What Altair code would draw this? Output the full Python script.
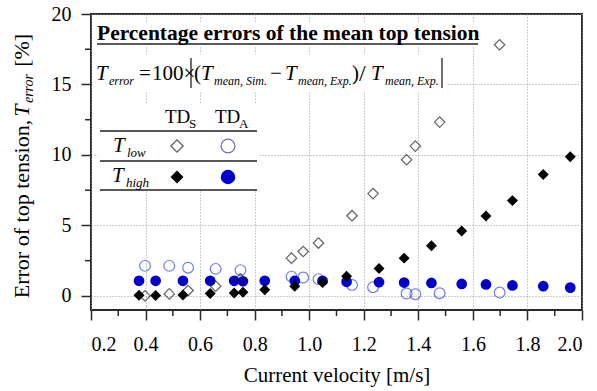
import altair as alt
import pandas as pd

# ---------------- data ----------------
low_x = [0.398, 0.487, 0.556, 0.657, 0.748, 0.935, 0.978, 1.034, 1.157, 1.234, 1.357, 1.389, 1.478, 1.698]
tds_low = [0.0, 0.14, 0.38, 0.69, 1.21, 2.68, 3.15, 3.75, 5.69, 7.26, 9.66, 10.63, 12.33, 17.82]
tda_low = [2.13, 2.13, 2.0, 1.92, 1.83, 1.37, 1.30, 1.19, 0.78, 0.62, 0.17, 0.12, 0.19, 0.24]

high_x = [0.376, 0.437, 0.537, 0.637, 0.725, 0.757, 0.837, 0.947, 1.049, 1.137, 1.256, 1.348,
          1.448, 1.559, 1.648, 1.745, 1.858, 1.957]
tds_high = [0.05, 0.03, 0.07, 0.17, 0.20, 0.26, 0.43, 0.69, 0.95, 1.40, 1.94, 2.68,
            3.56, 4.60, 5.67, 6.76, 8.61, 9.87]
tda_high = [1.07, 1.07, 1.07, 1.07, 1.07, 1.04, 1.07, 1.07, 1.07, 1.00, 0.97, 0.95,
            0.92, 0.85, 0.81, 0.74, 0.69, 0.59]

x_major = [0.2, 0.4, 0.6, 0.8, 1.0, 1.2, 1.4, 1.6, 1.8, 2.0]
x_minor = [0.3, 0.5, 0.7, 0.9, 1.1, 1.3, 1.5, 1.7, 1.9]
y_major = [0, 5, 10, 15, 20]
y_minor = [2.5, 7.5, 12.5, 17.5]

x_title = "Current velocity [m/s]"
y_title_parts = ["Error of top tension,", "T", "error", "[%]"]
panel_title = "Percentage errors of the mean top tension"

# ---------------- layout ----------------
OX, OY = 91, 14          # plot-area origin inside the 597x391 page
W, H = 491, 296
X0, X1 = 0.2, 2.0
Y0, Y1 = -1.0, 20.0
FONT = "Liberation Serif"
BLUE = "#0000c8"
BLUE_OPEN = "#3a46d8"
INK = "#2a2a2a"


def dx(p):
    return X0 + (p - OX) / W * (X1 - X0)


def dy(p):
    return Y1 - (p - OY) / H * (Y1 - Y0)


xs = alt.Scale(domain=[X0, X1], nice=False, zero=False)
ys = alt.Scale(domain=[Y0, Y1], nice=False, zero=False)

axis_style = dict(labelFont=FONT, labelFontSize=20, labelColor="black",
                  titleFont=FONT, titleFontSize=21, titleFontWeight="normal", titleColor="black",
                  tickColor=INK, tickWidth=1.5, domain=False, tickSize=10,
                  gridColor="#9a9a9a", gridDash=[1, 2], gridWidth=1)

# identical axis objects on every layer so the shared axes merge cleanly
x_axis = alt.Axis(values=x_major, format=".1f", title=x_title, titlePadding=10,
                  labelPadding=14, **axis_style)
y_axis = alt.Axis(values=y_major, format="d", title="", labelPadding=10, **axis_style)

X_ = lambda f="v": alt.X(f + ":Q", scale=xs, axis=x_axis)
Y_ = lambda f="val": alt.Y(f + ":Q", scale=ys, axis=y_axis)


def series(xv, yv):
    return pd.DataFrame({"v": xv, "val": yv})


a_low = alt.Chart(series(low_x, tda_low)).mark_point(
    shape="circle", size=115, filled=False, stroke=BLUE_OPEN, strokeWidth=1.2).encode(x=X_(), y=Y_())
a_high = alt.Chart(series(high_x, tda_high)).mark_point(
    shape="circle", size=115, filled=True, fill=BLUE, opacity=1, strokeWidth=0).encode(x=X_(), y=Y_())
s_low = alt.Chart(series(low_x, tds_low)).mark_point(
    shape="diamond", size=110, filled=False, stroke="#222", strokeWidth=1.2).encode(x=X_(), y=Y_())
s_high = alt.Chart(series(high_x, tds_high)).mark_point(
    shape="diamond", size=120, filled=True, fill="black", opacity=1, strokeWidth=0).encode(x=X_(), y=Y_())

# minor ticks (outside the frame)
mx = pd.DataFrame({"v": x_minor, "y1": Y0, "y2": Y0 - 6 / H * (Y1 - Y0)})
my = pd.DataFrame({"val": y_minor, "x1": X0, "x2": X0 - 6 / W * (X1 - X0)})
minor_x_layer = alt.Chart(mx).mark_rule(color=INK, strokeWidth=1.5).encode(
    x=X_(), y=Y_("y1"), y2="y2:Q")
minor_y_layer = alt.Chart(my).mark_rule(color=INK, strokeWidth=1.5).encode(
    y=Y_(), x=X_("x1"), x2="x2:Q")

# ---------------- annotation (page-pixel placed, converted to data units) ----------------
boxes = pd.DataFrame([(93, 22, 482, 47), (93, 54, 446, 92), (98, 104, 259, 191)],
                     columns=["x", "y", "x2", "y2"])
boxes = boxes.assign(x=dx(boxes.x), x2=dx(boxes.x2), y=dy(boxes.y), y2=dy(boxes.y2))
box_layer = alt.Chart(boxes).mark_rect(fill="white").encode(
    x=X_("x"), x2="x2:Q", y=Y_("y"), y2="y2:Q")

rules = pd.DataFrame([(97, 44, 478, 44, 1.6), (191, 58, 191, 88, 1.3), (442, 58, 442, 88, 1.3),
                      (100, 131, 257, 131, 1.6), (100, 161, 257, 161, 1.6), (100, 190, 257, 190, 1.6)],
                     columns=["x", "y", "x2", "y2", "w"])
rules = rules.assign(x=dx(rules.x), x2=dx(rules.x2), y=dy(rules.y), y2=dy(rules.y2))
rule_layer = alt.Chart(rules).mark_rule(color="#222").encode(
    x=X_("x"), x2="x2:Q", y=Y_("y"), y2="y2:Q", strokeWidth=alt.StrokeWidth("w:Q", scale=None))

FY, FS = 22, 14
yb = 29
w_main = 8.25 * FY
w_T = 0.62 * FY
w_err = 2.2 * FS + 0.25 * FY
w_pct = 1.5 * FY
total = w_main + w_T + w_err + w_pct
ystart = 166 + total / 2

normal_rows = [
    ("=", 139, 80, 21, 0), ("100×", 152, 80, 21, 0), ("(", 194, 80, 21, 0), ("−", 270, 80, 21, 0),
    (")", 352, 80, 21, 0), ("/", 359, 81, 24, 0),
    ("TD", 165, 123, 19, 0), ("S", 189, 128, 13, 0), ("TD", 215, 123, 19, 0), ("A", 239, 128, 13, 0),
    (y_title_parts[0], yb, ystart, FY, 270),
    (y_title_parts[3], yb, ystart - w_main - w_T - w_err, FY, 270),
]
italic_rows = [
    ("T", 96, 80, 21, 0), ("error", 109, 85, 12, 0),
    ("T", 201, 80, 21, 0), ("mean, Sim.", 214, 85, 12, 0),
    ("T", 285, 80, 21, 0), ("mean, Exp.", 298, 85, 12, 0),
    ("T", 371, 80, 21, 0), ("mean, Exp.", 385, 85, 12, 0),
    ("T", 113, 152, 21, 0), ("low", 127, 157, 13, 0),
    ("T", 112, 182, 21, 0), ("high", 126, 187, 13, 0),
    (y_title_parts[1], yb, ystart - w_main, FY, 270),
    (y_title_parts[2], yb + 4, ystart - w_main - w_T, FS, 270),
]
bold_rows = [(panel_title, 97, 40, 21.5, 0)]
tcols = ["t", "x", "y", "size", "angle"]


def text_layer(rows, **kw):
    d = pd.DataFrame(rows, columns=tcols)
    d = d.assign(x=dx(d.x), y=dy(d.y))
    return alt.Chart(d).mark_text(align="left", baseline="alphabetic", font=FONT,
                                  color="black", **kw).encode(
        x=X_("x"), y=Y_("y"), text="t:N",
        size=alt.Size("size:Q", scale=None), angle=alt.Angle("angle:Q", scale=None))


t_norm = text_layer(normal_rows)
t_ital = text_layer(italic_rows, fontStyle="italic")
t_bold = text_layer(bold_rows, fontWeight="bold")


def sym(px, py):
    return pd.DataFrame({"x": [dx(px)], "y": [dy(py)]})


leg1 = alt.Chart(sym(177, 146)).mark_point(shape="diamond", size=150, filled=False, stroke="#222",
                                           strokeWidth=1.4).encode(x=X_("x"), y=Y_("y"))
leg2 = alt.Chart(sym(228, 146)).mark_point(shape="circle", size=190, filled=False, stroke="#2d35b0",
                                           strokeWidth=1.3).encode(x=X_("x"), y=Y_("y"))
leg3 = alt.Chart(sym(177, 177)).mark_point(shape="diamond", size=170, filled=True, fill="black",
                                           opacity=1, strokeWidth=0).encode(x=X_("x"), y=Y_("y"))
leg4 = alt.Chart(sym(228, 177)).mark_point(shape="circle", size=210, filled=True, fill=BLUE,
                                           opacity=1, strokeWidth=0).encode(x=X_("x"), y=Y_("y"))

chart = alt.layer(
    a_low, box_layer, a_high, s_low, s_high, minor_x_layer, minor_y_layer, rule_layer,
    t_norm, t_ital, t_bold, leg1, leg2, leg3, leg4
).properties(
    width=W, height=H, autosize="none",
    padding={"left": OX, "top": OY, "right": 597 - OX - W, "bottom": 391 - OY - H},
    background="white",
).configure_view(
    stroke=INK, strokeWidth=2
).configure_axis(
    labelFont=FONT, titleFont=FONT,
)

chart.save("out.html", embed_options={"renderer": "svg", "actions": False})
